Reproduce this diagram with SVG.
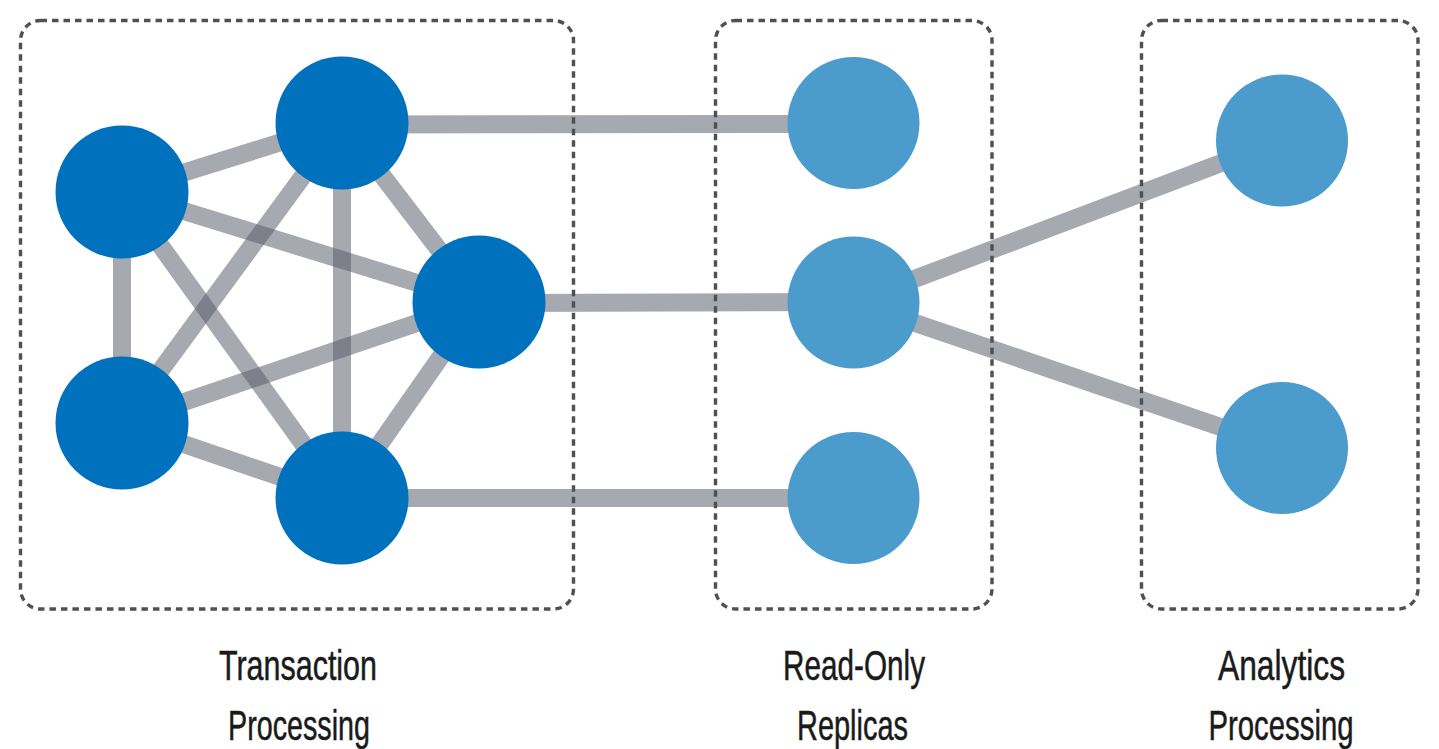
<svg xmlns="http://www.w3.org/2000/svg" width="1439" height="749" viewBox="0 0 1439 749">
<style>
.edge{stroke:#595d6a;stroke-opacity:0.53;stroke-width:18;fill:none}
.box{fill:none;stroke:#505053;stroke-width:3.4;stroke-dasharray:6.5 5}
.dark{fill:#0071bc}
.light{fill:#4b9bcd}
.lbl{font-family:"Liberation Sans",Arial,sans-serif;font-size:42px;fill:#1a1a1a;stroke:#1a1a1a;stroke-width:0.5;text-anchor:middle}
</style>
<rect width="1439" height="749" fill="#ffffff"/>
<g id="connectors">
<line class="edge" x1="122" y1="192" x2="342" y2="123"/>
<line class="edge" x1="122" y1="192" x2="479" y2="302"/>
<line class="edge" x1="122" y1="192" x2="122" y2="423"/>
<line class="edge" x1="122" y1="192" x2="342" y2="498"/>
<line class="edge" x1="342" y1="123" x2="479" y2="302"/>
<line class="edge" x1="342" y1="123" x2="122" y2="423"/>
<line class="edge" x1="342" y1="123" x2="342" y2="498"/>
<line class="edge" x1="479" y1="302" x2="122" y2="423"/>
<line class="edge" x1="479" y1="302" x2="342" y2="498"/>
<line class="edge" x1="122" y1="423" x2="342" y2="498"/>
<line class="edge" x1="342" y1="124.5" x2="853.5" y2="124"/>
<line class="edge" x1="479" y1="303" x2="853.5" y2="302"/>
<line class="edge" x1="342" y1="498" x2="853.5" y2="498"/>
<line class="edge" x1="853.5" y1="302" x2="1282" y2="140"/>
<line class="edge" x1="853.5" y1="302" x2="1282" y2="448"/>
</g>
<g id="groups">
<rect id="box-transaction" class="box" x="20.5" y="20.5" width="553" height="588.5" rx="20"/>
<rect id="box-replicas" class="box" x="715.5" y="20.5" width="276.5" height="588.5" rx="20"/>
<rect id="box-analytics" class="box" x="1141.5" y="20.5" width="276.5" height="588.5" rx="20"/>
</g>
<g id="node-t1"><circle class="dark" cx="122" cy="192" r="66.5"/></g>
<g id="node-t2"><circle class="dark" cx="342" cy="123" r="66.5"/></g>
<g id="node-t3"><circle class="dark" cx="479" cy="302" r="66.5"/></g>
<g id="node-t4"><circle class="dark" cx="122" cy="423" r="66.5"/></g>
<g id="node-t5"><circle class="dark" cx="342" cy="498" r="66.5"/></g>
<g id="node-r1"><circle class="light" cx="853.5" cy="123" r="66"/></g>
<g id="node-r2"><circle class="light" cx="853.5" cy="302.5" r="66"/></g>
<g id="node-r3"><circle class="light" cx="853.5" cy="498" r="66"/></g>
<g id="node-a1"><circle class="light" cx="1282" cy="140.5" r="66"/></g>
<g id="node-a2"><circle class="light" cx="1282" cy="448" r="66"/></g>
<g id="labels">
<text class="lbl" x="298" y="680" textLength="158" lengthAdjust="spacingAndGlyphs">Transaction</text>
<text class="lbl" x="299" y="740" textLength="142" lengthAdjust="spacingAndGlyphs">Processing</text>
<text class="lbl" x="854" y="680" textLength="142" lengthAdjust="spacingAndGlyphs">Read-Only</text>
<text class="lbl" x="852.5" y="740" textLength="111" lengthAdjust="spacingAndGlyphs">Replicas</text>
<text class="lbl" x="1281.5" y="680" textLength="127" lengthAdjust="spacingAndGlyphs">Analytics</text>
<text class="lbl" x="1281" y="740" textLength="145" lengthAdjust="spacingAndGlyphs">Processing</text>
</g>
</svg>
